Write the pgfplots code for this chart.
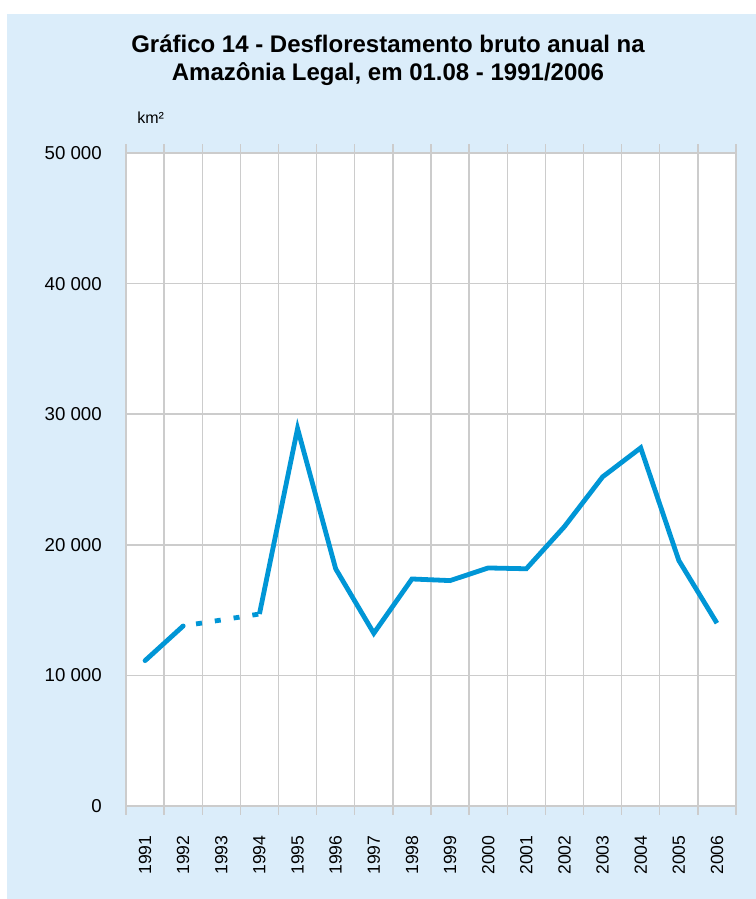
\documentclass[border=0pt]{standalone}
\usepackage{fontspec}
\setmainfont{Liberation Sans}
\usepackage{pgfplots}
\pgfplotsset{compat=1.18}
\definecolor{bgblue}{RGB}{219,237,250}
\definecolor{lineblue}{RGB}{0,150,214}
\definecolor{gridgray}{RGB}{204,204,204}
\begin{document}
\begin{tikzpicture}[x=1pt,y=1pt]
\path[use as bounding box] (0,0) rectangle (567,674.25);
\fill[bgblue] (5.5,0) rectangle (567,663.75);
\node[align=center, font=\fontsize{18}{20.6}\selectfont\bfseries] at (291,628.9)
  {Gráfico 14 - Desflorestamento bruto anual na\\Amazônia Legal, em 01.08 - 1991/2006};
\node[anchor=west, inner sep=0pt, font=\fontsize{12}{14}\selectfont] at (102.75,585.75) {km²};
\begin{axis}[
  at={(94.5pt,69.75pt)}, anchor=south west,
  scale only axis, width=457.5pt, height=489.75pt,
  axis background/.style={fill=white},
  xmin=-0.5, xmax=15.5, ymin=0, ymax=50000,
  scaled y ticks=false,
  xtick={-0.5,0.5,...,15.5},
  x tick label as interval,
  xticklabels={1991,1992,1993,1994,1995,1996,1997,1998,1999,2000,2001,2002,2003,2004,2005,2006},
  ytick={0,10000,20000,30000,40000,50000},
  yticklabels={0,10 000,20 000,30 000,40 000,50 000},
  xmajorgrids, ymajorgrids,
  grid style={draw=gridgray, line width=1.1pt},
  axis line style={draw=gridgray, line width=1.1pt},
  tick align=outside, major tick length=6.5pt,
  x tick style={draw=gridgray, line width=1.1pt},
  y tick style={draw=none},
  tick label style={font=\fontsize{14}{16}\selectfont},
  x tick label style={rotate=90, anchor=east, inner sep=0pt, xshift=-15.5pt, font=\fontsize{13.2}{15}\selectfont},
  y tick label style={anchor=east, inner sep=0pt, xshift=-11.5pt},
  clip=false,
]
\addplot[draw=lineblue, line width=3.6pt, line cap=round] coordinates {(0,11130) (1,13786)};
\addplot[draw=lineblue, line width=3.6pt, line cap=butt, dash pattern=on 4.5pt off 9.75pt, dash phase=4.5pt] coordinates {(1,13786) (3,14700)};
\addplot[draw=lineblue, line width=3.6pt, line cap=butt, line join=miter] coordinates {
(3,14700) (4,28900) (5,18161) (6,13227) (7,17383) (8,17259) (9,18226) (10,18165) (11,21394) (12,25200) (13,27423) (14,18800) (15,14000)};
\end{axis}
\end{tikzpicture}
\end{document}
